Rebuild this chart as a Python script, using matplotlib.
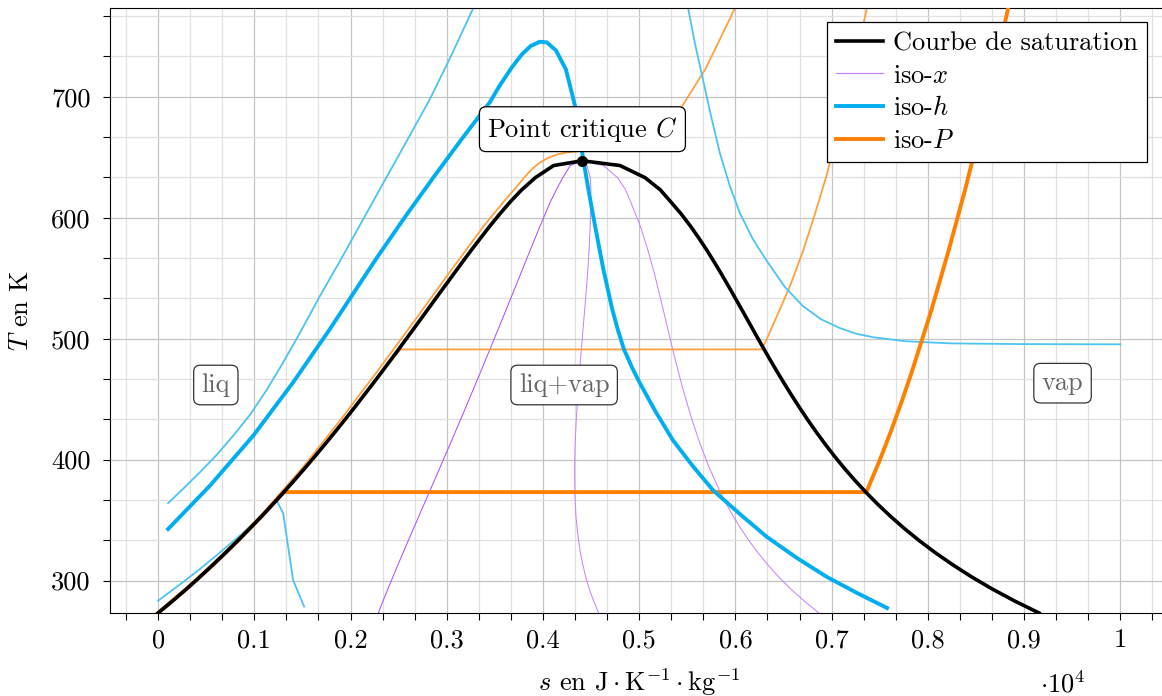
import matplotlib
matplotlib.use('Agg')
import matplotlib.pyplot as plt
from matplotlib.ticker import MultipleLocator, FuncFormatter
from matplotlib.lines import Line2D

plt.rcParams['font.family'] = 'cmr10'
plt.rcParams['mathtext.fontset'] = 'cm'
plt.rcParams['axes.unicode_minus'] = False
plt.rcParams['axes.formatter.use_mathtext'] = True
plt.rcParams['font.size'] = 19

## Saturation curve (T in K, s in J/K/kg)
T_sat = [273.16, 283.15, 293.15, 303.15, 313.15, 323.15, 333.15, 343.15, 353.15, 363.15,
         373.15, 383.15, 393.15, 403.15, 413.15, 423.15, 433.15, 443.15, 453.15, 463.15,
         473.15, 483.15, 493.15, 503.15, 513.15, 523.15, 533.15, 543.15, 553.15, 563.15,
         573.15, 583.15, 593.15, 603.15, 613.15, 623.15, 633.15, 643.15, 647.10]
s_liq = [0, 151, 297, 437, 572, 704, 831, 955, 1076, 1193,
         1307, 1419, 1528, 1635, 1739, 1842, 1943, 2042, 2139, 2236,
         2331, 2425, 2518, 2610, 2702, 2794, 2885, 2977, 3069, 3161,
         3255, 3351, 3449, 3552, 3660, 3780, 3921, 4111, 4407]
s_vap = [9156, 8900, 8666, 8452, 8256, 8075, 7908, 7754, 7611, 7478,
         7354, 7238, 7129, 7026, 6929, 6837, 6749, 6665, 6584, 6506,
         6430, 6356, 6284, 6213, 6143, 6072, 6001, 5930, 5857, 5781,
         5703, 5620, 5532, 5436, 5328, 5218, 5060, 4800, 4407]
T_crit = 647.10
s_crit = 4407

## iso-x (x = 0.25, 0.5, 0.75)
T_x = [273.16, 283.15, 293.15, 303.15, 313.15, 323.15, 333.15, 343.15, 353.15, 363.15,
       373.15, 393.15, 413.15, 433.15, 453.15, 473.15, 493.15, 513.15, 533.15, 553.15,
       573.15, 593.15, 613.15, 623.15, 633.15, 643.15, 647.10]
s_x25 = [2289, 2338, 2389, 2441, 2493, 2547, 2601, 2655, 2710, 2764,
         2819, 2928, 3037, 3144, 3250, 3355, 3459, 3562, 3664, 3766,
         3867, 3970, 4077, 4139, 4206, 4283, 4407]
s_x50 = [4578, 4526, 4481, 4444, 4414, 4389, 4370, 4355, 4343, 4336,
         4331, 4329, 4334, 4346, 4362, 4380, 4401, 4422, 4443, 4463,
         4479, 4491, 4494, 4499, 4491, 4456, 4407]
s_x75 = [6867, 6713, 6574, 6448, 6335, 6232, 6139, 6054, 5977, 5907,
         5842, 5729, 5632, 5548, 5473, 5405, 5342, 5282, 5222, 5160,
         5091, 5011, 4911, 4858, 4775, 4628, 4407]

## iso-h
s_h_thick = [104, 537, 988, 1403, 1785, 2024, 2270, 2564, 2859, 3157, 3448, 3552, 3677,
             3781, 3874, 3968, 4040, 4134, 4238, 4342, 4418, 4477, 4540, 4623, 4717,
             4779, 4841, 4924, 5007, 5173, 5350, 5548, 5766, 6046, 6328, 6640, 6952,
             7264, 7576]
T_h_thick = [342.6, 378.3, 419.7, 463.8, 507.9, 536.8, 566.5, 600.4, 633.1, 665.2, 695.5, 709.5, 724.4,
             735.1, 742.1, 745.5, 745.0, 738.4, 722.7, 689.7, 648.3, 621.1, 593.8, 559.1, 525.2,
             507.0, 491.3, 476.4, 463.2, 439.3, 416.1, 395.5, 374.8, 355.0, 336.0, 318.6, 302.9,
             289.7, 277.3]
s_h_1 = [104, 267, 433, 607, 780, 953, 1127, 1296, 1473, 1681, 1889, 2097, 2305,
         2565, 2824, 3053, 3274]
T_h_1 = [364.0, 376.4, 389.4, 403.7, 419.7, 436.8, 457.4, 479.8, 504.6, 535.1, 564.0, 593.8, 623.6,
         660.7, 697.9, 735.1, 773.1]
s_h_2 = [0, 226, 434, 642, 850, 1037, 1231, 1300, 1403, 1518]
T_h_2 = [283.3, 296.7, 309.5, 323.1, 337.2, 350.8, 366.5, 355.5, 300.4, 278.4]
s_h_3 = [5509, 5579, 5662, 5745, 5839, 5943, 6047, 6182, 6328, 6515, 6702, 6889,
         7087, 7253, 7430, 7762, 8230, 8945, 10000]
T_h_3 = [773.1, 744.2, 714.5, 684.7, 653.3, 626.0, 603.7, 582.2, 564.0, 542.6, 526.9, 516.1,
         508.7, 504.1, 501.2, 497.9, 496.1, 495.5, 495.3]

## iso-P
T_P1 = [273.16, 293.15, 313.15, 333.15, 353.15, 373.12, 373.12, 373.15, 398.15, 423.15,
        448.15, 473.15, 523.15, 573.15, 623.15, 673.15, 723.15, 773.15]
s_P1 = [0, 297, 572, 831, 1076, 1307, 7354, 7361, 7493, 7615,
        7729, 7836, 8035, 8217, 8387, 8545, 8696, 8834]
T_P2 = [273.16, 313.15, 353.15, 393.15, 433.15, 473.15, 491.1, 491.1, 498.0, 509.5,
        524.4, 543.4, 572.3, 602.9, 635.9, 678.9, 722.7, 773.1]
s_P2 = [0, 572, 1076, 1528, 1943, 2331, 2520, 6272, 6317, 6380,
        6463, 6567, 6702, 6826, 6951, 7086, 7221, 7367]
T_P3 = [273.16, 313.15, 353.15, 393.15, 433.15, 473.15, 513.15, 553.15, 593.15, 613.15,
        623.15, 633.15, 640.15, 645.15, 649.15, 652.15, 654.15, 655.15, 656.15, 658.15,
        661.15, 666.15, 673.15, 690.15, 723.15, 773.15]
s_P3 = [0, 567, 1062, 1500, 1899, 2280, 2650, 3014, 3385, 3590,
        3700, 3805, 3885, 3960, 4045, 4140, 4260, 4380, 4520, 4700,
        4880, 5010, 5140, 5430, 5690, 5995]

c_x = '#c77dff'
c_x_dark = '#a848ff'
c_h = '#00aeef'
c_h_thin = '#4cc4f2'
c_P = '#ff7f00'
c_P_thin = '#ffa040'

fig = plt.figure(figsize=(11.62, 6.96), dpi=100)
ax = fig.add_axes([0.09466, 0.11925, 0.91084, 0.86882])

# iso-x
ax.plot(s_x25, T_x, color=c_x_dark, lw=0.7, zorder=2)
ax.plot(s_x50, T_x, color=c_x, lw=0.7, zorder=2)
ax.plot(s_x75, T_x, color=c_x, lw=0.7, zorder=2)

# thin iso-P / iso-h
ax.plot(s_P2, T_P2, color=c_P_thin, lw=1.3, zorder=2)
ax.plot(s_P3, T_P3, color=c_P_thin, lw=1.3, zorder=2)
ax.plot(s_h_1, T_h_1, color=c_h_thin, lw=1.3, zorder=2)
ax.plot(s_h_2, T_h_2, color=c_h_thin, lw=1.3, zorder=2)
ax.plot(s_h_3, T_h_3, color=c_h_thin, lw=1.3, zorder=2)

# thick ones
ax.plot(s_P1, T_P1, color=c_P, lw=2.8, zorder=3)
ax.plot(s_h_thick, T_h_thick, color=c_h, lw=2.8, zorder=3)

# saturation curve
ax.plot(s_liq + s_vap[::-1], T_sat + T_sat[::-1], color='black', lw=2.6, zorder=4)
ax.plot([s_crit], [T_crit], 'o', color='black', ms=7, zorder=5)

box = dict(boxstyle='round,pad=0.3,rounding_size=0.25', fc='white', ec='#333333', lw=0.9)
ax.text(s_crit + 3, 667.0, r'Point critique $C$', ha='center', va='baseline', zorder=6,
        bbox=dict(boxstyle='round,pad=0.3,rounding_size=0.25', fc='white', ec='black', lw=0.9))
ax.text(600, 456, 'liq', color='#666666', ha='center', va='baseline', bbox=box, zorder=6)
ax.text(4220, 456, 'liq+vap', color='#666666', ha='center', va='baseline', bbox=box, zorder=6)
ax.text(9400, 457.5, 'vap', color='#666666', ha='center', va='baseline', bbox=box, zorder=6)

ax.set_xlim(-500, 10500)
ax.set_ylim(273.15, 773.15)
ax.xaxis.set_major_locator(MultipleLocator(1000))
ax.xaxis.set_minor_locator(MultipleLocator(1000 / 3))
ax.yaxis.set_major_locator(MultipleLocator(100))
ax.yaxis.set_minor_locator(MultipleLocator(100 / 3))
ax.xaxis.set_major_formatter(FuncFormatter(lambda v, p: '%g' % round(v / 10000, 2)))
ax.yaxis.set_major_formatter(FuncFormatter(lambda v, p: '%d' % round(v)))

ax.grid(which='major', color='#c4c4c4', lw=0.9)
ax.grid(which='minor', color='#e0e0e0', lw=0.9)
ax.set_axisbelow(True)
ax.tick_params(which='both', direction='out', length=5, width=0.8, top=False, right=False)
ax.tick_params(axis='x', pad=6)
ax.tick_params(axis='y', pad=9)
for sp in ax.spines.values():
    sp.set_linewidth(0.8)

ax.set_xlabel(r'$s$ en $\mathrm{J}\cdot\mathrm{K}^{-1}\cdot\mathrm{kg}^{-1}$')
ax.xaxis.set_label_coords(0.5, -0.088)
ax.set_ylabel(r'$T$ en K')
ax.yaxis.set_label_coords(-0.073, 0.5)
fig.text(1063 / 1162, 1 - 684 / 696, r'$\cdot 10^4$', ha='center', va='center')

handles = [Line2D([], [], color='black', lw=2.6),
           Line2D([], [], color=c_x, lw=0.8),
           Line2D([], [], color=c_h, lw=2.8),
           Line2D([], [], color=c_P, lw=2.8)]
labels = ['Courbe de saturation', r'iso-$x$', r'iso-$h$', r'iso-$P$']
leg = ax.legend(handles, labels, loc='upper right', bbox_to_anchor=(0.98, 0.977),
                borderaxespad=0, fancybox=False, framealpha=1, edgecolor='black',
                handlelength=1.75, handletextpad=0.4, labelspacing=0.33, borderpad=0.35)
leg.get_frame().set_linewidth(0.9)
leg.set_zorder(7)

fig.savefig('out.png', dpi=100)
